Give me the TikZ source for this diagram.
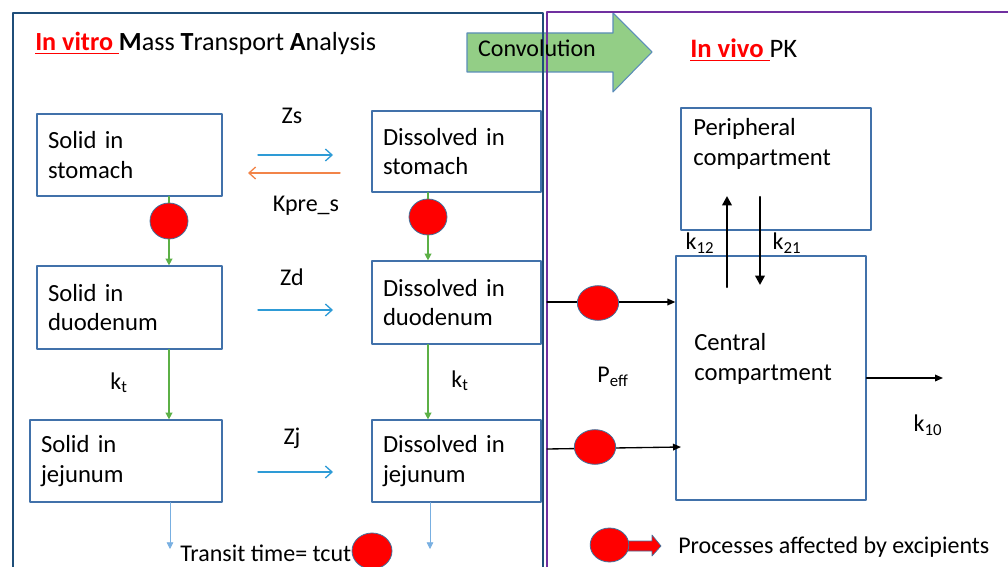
\documentclass[tikz,border=0pt]{standalone}
\usepackage{fontspec}
\setmainfont{Carlito}
\usetikzlibrary{arrows.meta,shapes.geometric}
\definecolor{frameblue}{RGB}{31,78,121}
\definecolor{framepurple}{RGB}{112,48,160}
\definecolor{boxblue}{RGB}{65,113,170}
\definecolor{flowgreen}{RGB}{92,176,70}
\definecolor{flowblue}{RGB}{46,155,214}
\definecolor{floworange}{RGB}{242,132,72}
\definecolor{lightflow}{RGB}{120,175,225}
\definecolor{convgreen}{RGB}{147,206,134}
\definecolor{convedge}{RGB}{91,141,184}
\definecolor{spotedge}{RGB}{65,113,156}

\tikzset{
  box/.style={draw=boxblue,line width=0.9pt,align=left,inner xsep=8.25pt,
    minimum height=61.5pt,font=\fontsize{18.5}{22}\selectfont},
  boxL/.style={box,minimum width=138.75pt,text width=122.25pt},
  boxR/.style={box,minimum width=126.75pt,text width=110.25pt},
  pkbox/.style={draw=boxblue,line width=0.9pt,minimum width=142.5pt},
  lbl/.style={inner sep=0pt,font=\fontsize{18}{21}\selectfont},
  spot/.style={ellipse,fill=red,draw=spotedge,line width=0.6pt,
    minimum width=28.5pt,minimum height=27pt,inner sep=0pt},
  zflow/.style={draw=flowblue,line width=1pt,-{Straight Barb[length=5pt,width=9pt]}},
  gflow/.style={draw=flowgreen,line width=1pt,-{Triangle[length=5pt,width=5pt]}},
  exitflow/.style={draw=lightflow,line width=0.6pt,-{Triangle[length=5pt,width=5pt]}},
  pkflow/.style={draw=black,line width=1pt,-{Triangle[length=6pt,width=5pt]}},
  kflow/.style={draw=black,line width=1.8pt,-{Triangle[length=7pt,width=7pt]}}
}

\begin{document}
\begin{tikzpicture}[x=0.75pt,y=-0.75pt,line cap=round,line join=round]
  \path[use as bounding box] (0,0) rectangle (1008,567);

  \fill[convgreen,draw=convedge,line width=0.8pt]
    (467,33) -- (613,33) -- (613,13) -- (652,52) -- (613,92) -- (613,72) -- (467,72) -- cycle;

  % two panels
  \draw[frameblue,line width=2.2pt] (13,580) -- (13,13) -- (543,13) -- (543,580);
  \draw[framepurple,line width=2pt] (547,580) -- (547,12) -- (1015,12);
  \node[lbl] (conv) at (537,48) {Convolution};

  \node[anchor=base west,inner sep=0pt,font=\fontsize{19.6}{24}\selectfont] (vitro) at (35,51)
    {\textcolor{red}{\underline{\textbf{In vitro }}}\textbf{M}ass \textbf{T}ransport \textbf{A}nalysis};
  \node[anchor=base west,inner sep=0pt,font=\fontsize{20}{24}\selectfont] (vivo) at (690,58)
    {\textcolor{red}{\underline{\textbf{In vivo }}}PK};

  % in vitro compartments
  \node[boxL] (ss) at (129.5,155) {Solid in\\stomach};
  \node[boxR,minimum height=60.75pt] (ds) at (456.5,151.5) {Dissolved in\\stomach};
  \node[boxL,minimum height=62.25pt] (sd) at (129.5,307.5) {Solid in\\duodenum};
  \node[boxR,minimum height=62.25pt] (dd) at (456.5,302.5) {Dissolved in\\duodenum};
  \node[boxL,minimum width=144pt,text width=127.5pt] (sj) at (126,461) {Solid in\\jejunum};
  \node[boxR] (dj) at (456.5,461) {Dissolved in\\jejunum};

  \coordinate (zs0) at (258,155);  \coordinate (zs1) at (333,155);
  \coordinate (kp0) at (340,173);  \coordinate (kp1) at (248,173);
  \coordinate (zd0) at (258,310);  \coordinate (zd1) at (333,310);
  \coordinate (zj0) at (258,472);  \coordinate (zj1) at (333,472);
  \draw[zflow] (zs0) -- (zs1);
  \draw[zflow,draw=floworange] (kp0) -- (kp1);
  \draw[zflow] (zd0) -- (zd1);
  \draw[zflow] (zj0) -- (zj1);
  \node[lbl] (zs) at (292,116) {Zs};
  \node[lbl] (kpre) at (306,206) {Kpre\_s};
  \node[lbl] (zd) at (292,277) {Zd};
  \node[lbl] (zj) at (292,438) {Zj};

  % transit down the gut
  \node[spot] (e1) at (169,221) {};
  \node[spot] (e2) at (428,217) {};
  \draw[gflow,-] (e1 |- ss.south) -- (e1.north);
  \draw[gflow] (e1.south) -- (e1 |- sd.north);
  \draw[gflow,-] (e2 |- ds.south) -- (e2.north);
  \draw[gflow] (e2.south) -- (e2 |- dd.north);
  \draw[gflow] (sd.south -| e1) -- (sj.north -| e1);
  \draw[gflow] (dd.south -| e2) -- (dj.north -| e2);
  \node[lbl] (kt1) at (119,383) {k\textsubscript{t}};
  \node[lbl] (kt2) at (460,381) {k\textsubscript{t}};

  \coordinate (out1) at (170,549);
  \coordinate (out2) at (430,549);
  \draw[exitflow] (sj.south -| out1) -- (out1);
  \draw[exitflow] (dj.south -| out2) -- (out2);
  \node[anchor=base west,lbl] (tcut) at (180,561) {Transit time= tcut};
  \node[spot,minimum width=30pt] (e3) at (372,551) {};

  % in vivo PK
  \node[pkbox,minimum height=91.5pt] (pc) at (776,169) {};
  \node[pkbox,minimum height=183pt] (cc) at (771,378) {};
  \node[lbl,anchor=west,align=left,font=\fontsize{18.5}{22}\selectfont] (pct) at (693,144)
    {Peripheral\\compartment};
  \node[lbl,anchor=west,align=left,font=\fontsize{18.5}{22}\selectfont] (cct) at (694,359)
    {Central\\compartment};

  \coordinate (up0) at (727,287);  \coordinate (up1) at (727,196);
  \coordinate (dn0) at (760,197);  \coordinate (dn1) at (760,285);
  \draw[kflow] (up0) -- (up1);
  \draw[kflow] (dn0) -- (dn1);
  \node[lbl] (k12) at (700,243) {k\textsubscript{12}};
  \node[lbl] (k21) at (787,243) {k\textsubscript{21}};

  \coordinate (in1) at (547,302);
  \coordinate (in2) at (547,449);
  \coordinate (in2end) at (681,447);
  \draw[pkflow] (in1) -- (in1 -| cc.west);
  \draw[pkflow] (in2) -- (in2end);
  \node[spot,minimum width=31pt,minimum height=26pt] (e4) at (598,303) {};
  \node[spot,minimum width=31pt,minimum height=26pt] (e5) at (595,447) {};
  \node[lbl] (peff) at (613,377) {P\textsubscript{eff}};

  \coordinate (elim) at (943,378);
  \draw[pkflow] (cc.east |- elim) -- (elim);
  \node[lbl] (k10) at (928,425) {k\textsubscript{10}};

  % legend
  \fill[red,draw=spotedge,line width=0.5pt]
    (626,541) -- (652,541) -- (652,535) -- (661,546) -- (652,556) -- (652,551) -- (626,551) -- cycle;
  \node[spot,minimum width=29pt,minimum height=25.5pt] (lg) at (609.5,545) {};
  \node[lbl,anchor=west] (lgt) at (678,547) {Processes affected by excipients};
\end{tikzpicture}
\end{document}
